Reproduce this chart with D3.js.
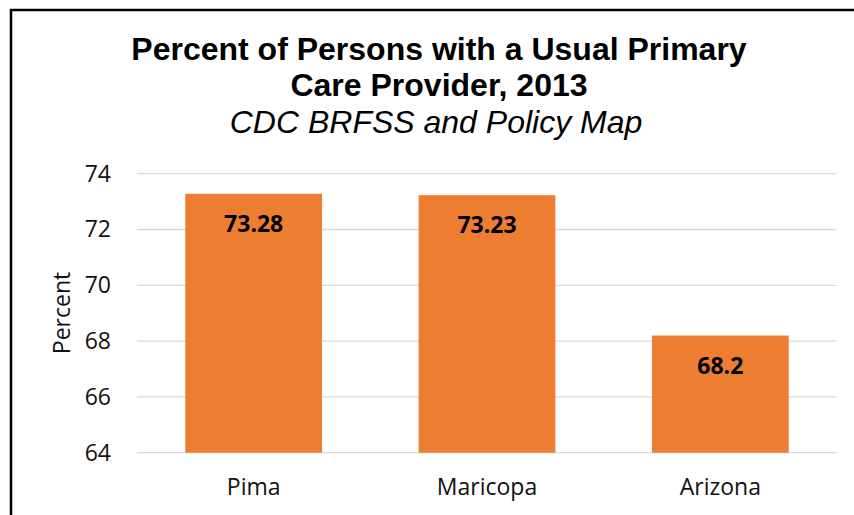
<!DOCTYPE html>
<html>
<head>
<meta charset="utf-8">
<script src="https://cdn.jsdelivr.net/npm/d3@7"></script>
<style>
  body { margin: 0; background: #fff; }
  svg { display: block; }
</style>
</head>
<body>
<div id="chart"></div>
<script>
// data
const categories = ["Pima", "Maricopa", "Arizona"];
const values = [73.28, 73.23, 68.2];
const yTicks = [64, 66, 68, 70, 72, 74];
const titleLines = ["Percent of Persons with a Usual Primary", "Care Provider, 2013"];
const subtitle = "CDC BRFSS and Policy Map";

const W = 854, H = 515;
const plot = { left: 137, right: 837, top: 173.7, bottom: 452.7 };

const svg = d3.select("#chart").append("svg")
  .attr("width", W)
  .attr("height", H);

// outer frame (runs off the right/bottom edge)
svg.append("rect")
  .attr("x", 11).attr("y", 10)
  .attr("width", 900).attr("height", 600)
  .style("fill", "none")
  .style("stroke", "#000")
  .style("stroke-width", 2.5);

const x = d3.scaleBand()
  .domain(categories)
  .range([plot.left, plot.right])
  .paddingInner(0.414)
  .paddingOuter(0.207);

const y = d3.scaleLinear()
  .domain([64, 74])
  .range([plot.bottom, plot.top]);

// gridlines
svg.selectAll(".grid")
  .data(yTicks).enter()
  .append("line")
  .attr("class", "grid")
  .attr("x1", plot.left).attr("x2", plot.right)
  .attr("y1", (d) => y(d)).attr("y2", (d) => y(d))
  .style("stroke", "#d9d9d9")
  .style("stroke-width", 1.3);

// y axis labels
const yAxis = svg.append("g")
  .attr("transform", `translate(${plot.left},0)`)
  .call(d3.axisLeft(y).tickValues(yTicks).tickSize(0).tickPadding(26));
yAxis.select(".domain").remove();
yAxis.selectAll("text")
  .style("font-family", "'Open Sans', sans-serif")
  .style("font-size", "23px")
  .style("fill", "#111");

// bars
svg.selectAll(".bar")
  .data(values).enter()
  .append("rect")
  .attr("class", "bar")
  .attr("x", (d, i) => x(categories[i]))
  .attr("width", x.bandwidth())
  .attr("y", (d) => y(d))
  .attr("height", (d) => y(64) - y(d))
  .style("fill", "#ED7D31");

// value labels
svg.selectAll(".valueLabel")
  .data(values).enter()
  .append("text")
  .attr("class", "valueLabel")
  .attr("x", (d, i) => x(categories[i]) + x.bandwidth() / 2)
  .attr("y", (d) => y(d) + 38)
  .attr("text-anchor", "middle")
  .style("font-family", "'Open Sans', sans-serif")
  .style("font-weight", "bold")
  .style("font-size", "23px")
  .style("fill", "#000")
  .text((d) => d);

// category labels
const xAxis = svg.append("g")
  .attr("transform", `translate(0,${plot.bottom})`)
  .call(d3.axisBottom(x).tickSize(0).tickPadding(26));
xAxis.select(".domain").remove();
xAxis.selectAll("text")
  .style("font-family", "'Open Sans', sans-serif")
  .style("font-size", "23px")
  .style("fill", "#111");

// axis title
svg.append("text")
  .attr("transform", "translate(70,313) rotate(-90)")
  .attr("text-anchor", "middle")
  .style("font-family", "'Open Sans', sans-serif")
  .style("font-size", "23px")
  .style("fill", "#111")
  .text("Percent");

// titles
svg.selectAll(".title")
  .data(titleLines).enter()
  .append("text")
  .attr("class", "title")
  .attr("x", 439)
  .attr("y", (d, i) => 60 + i * 36)
  .attr("text-anchor", "middle")
  .style("font-family", "'Liberation Sans', Arial, sans-serif")
  .style("font-weight", "bold")
  .style("font-size", "32px")
  .style("fill", "#000")
  .text((d) => d);

svg.append("text")
  .attr("x", 436)
  .attr("y", 133)
  .attr("text-anchor", "middle")
  .style("font-family", "'Liberation Sans', Arial, sans-serif")
  .style("font-style", "italic")
  .style("font-size", "32px")
  .style("fill", "#000")
  .text(subtitle);
</script>
</body>
</html>
